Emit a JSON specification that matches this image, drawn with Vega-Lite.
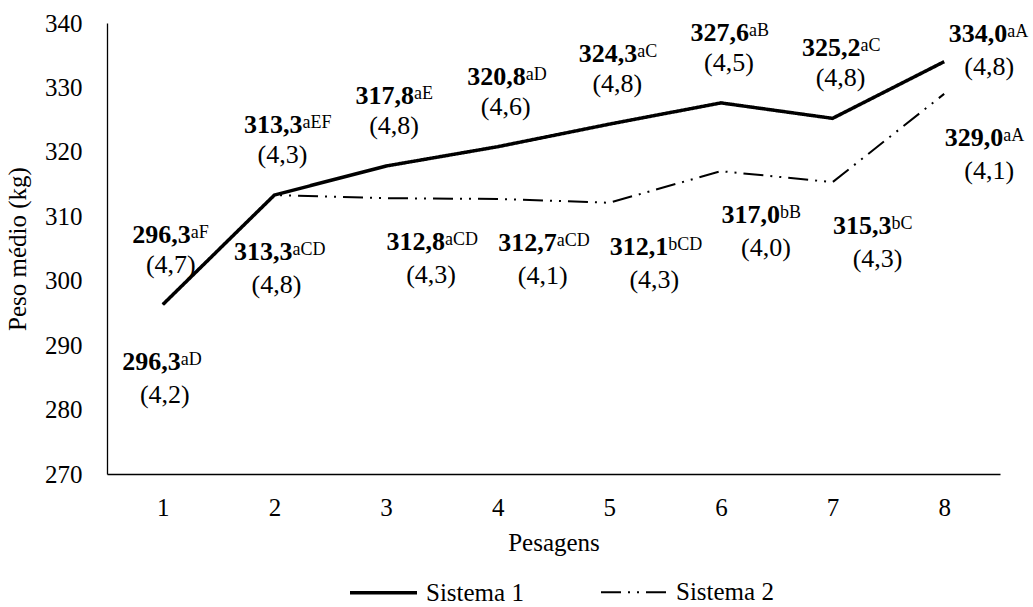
{
  "$schema": "https://vega.github.io/schema/vega-lite/v6.json",
  "width": 893,
  "height": 451,
  "autosize": {"type": "none"},
  "padding": {"left": 107, "top": 23, "right": 33, "bottom": 133},
  "background": "white",
  "data": {
    "values": [
      {"pesagem": 1, "sistema": "Sistema 1", "peso": 296.3, "letras": "aF", "dp": "(4,7)"},
      {"pesagem": 2, "sistema": "Sistema 1", "peso": 313.3, "letras": "aEF", "dp": "(4,3)"},
      {"pesagem": 3, "sistema": "Sistema 1", "peso": 317.8, "letras": "aE", "dp": "(4,8)"},
      {"pesagem": 4, "sistema": "Sistema 1", "peso": 320.8, "letras": "aD", "dp": "(4,6)"},
      {"pesagem": 5, "sistema": "Sistema 1", "peso": 324.3, "letras": "aC", "dp": "(4,8)"},
      {"pesagem": 6, "sistema": "Sistema 1", "peso": 327.6, "letras": "aB", "dp": "(4,5)"},
      {"pesagem": 7, "sistema": "Sistema 1", "peso": 325.2, "letras": "aC", "dp": "(4,8)"},
      {"pesagem": 8, "sistema": "Sistema 1", "peso": 334.0, "letras": "aA", "dp": "(4,8)"},
      {"pesagem": 1, "sistema": "Sistema 2", "peso": 296.3, "letras": "aD", "dp": "(4,2)"},
      {"pesagem": 2, "sistema": "Sistema 2", "peso": 313.3, "letras": "aCD", "dp": "(4,8)"},
      {"pesagem": 3, "sistema": "Sistema 2", "peso": 312.8, "letras": "aCD", "dp": "(4,3)"},
      {"pesagem": 4, "sistema": "Sistema 2", "peso": 312.7, "letras": "aCD", "dp": "(4,1)"},
      {"pesagem": 5, "sistema": "Sistema 2", "peso": 312.1, "letras": "bCD", "dp": "(4,3)"},
      {"pesagem": 6, "sistema": "Sistema 2", "peso": 317.0, "letras": "bB", "dp": "(4,0)"},
      {"pesagem": 7, "sistema": "Sistema 2", "peso": 315.3, "letras": "bC", "dp": "(4,3)"},
      {"pesagem": 8, "sistema": "Sistema 2", "peso": 329.0, "letras": "aA", "dp": "(4,1)"}
    ]
  },
  "encoding": {
    "x": {
      "field": "pesagem",
      "type": "ordinal",
      "scale": {"type": "point", "padding": 0.5},
      "axis": {
        "title": "Pesagens",
        "labelAngle": 0,
        "ticks": false,
        "grid": false,
        "domainColor": "#000000",
        "domainWidth": 1.3,
        "labelFontSize": 25,
        "labelColor": "#000000",
        "labelPadding": 21,
        "titleFontSize": 25,
        "titleFontWeight": "normal",
        "titleColor": "#000000",
        "titlePadding": 10
      }
    },
    "y": {
      "field": "peso",
      "type": "quantitative",
      "scale": {"domain": [270, 340], "nice": false, "zero": false},
      "axis": {
        "title": "Peso médio (kg)",
        "values": [270, 280, 290, 300, 310, 320, 330, 340],
        "ticks": false,
        "grid": false,
        "domainColor": "#000000",
        "domainWidth": 1.3,
        "labelFontSize": 25,
        "labelColor": "#000000",
        "labelPadding": 25,
        "titleFontSize": 25,
        "titleFontWeight": "normal",
        "titleColor": "#000000",
        "titlePadding": 14
      }
    }
  },
  "layer": [
    {
      "mark": {"type": "line", "color": "#000000", "strokeJoin": "miter"},
      "encoding": {
        "strokeDash": {
          "field": "sistema",
          "type": "nominal",
          "scale": {"domain": ["Sistema 1", "Sistema 2"], "range": [[1, 0], [20, 7, 2, 7, 2, 7]]},
          "legend": {
            "title": null,
            "orient": "none",
            "direction": "horizontal",
            "legendX": 241,
            "legendY": 534,
            "symbolType": "stroke",
            "symbolSize": 4489,
            "symbolStrokeWidth": 3,
            "symbolStrokeColor": "#000000",
            "labelFontSize": 25,
            "labelColor": "#000000",
            "labelOffset": 7,
            "columnPadding": 73,
            "padding": 0
          }
        },
        "strokeWidth": {
          "field": "sistema",
          "type": "ordinal",
          "scale": {"domain": ["Sistema 1", "Sistema 2"], "range": [3.5, 2]},
          "legend": null
        }
      }
    },
    {
      "transform": [{"filter": "datum.sistema == 'Sistema 1' && datum.pesagem < 8"}],
      "layer": [
        {"mark": {"type": "text", "fontWeight": "bold", "fontSize": 26, "align": "right", "baseline": "alphabetic", "dx": 28, "dy": -62, "color": "#000000"},
         "encoding": {"text": {"field": "peso", "type": "quantitative", "format": ".1f"}}},
        {"mark": {"type": "text", "fontSize": 18, "align": "left", "baseline": "alphabetic", "dx": 28, "dy": -67, "color": "#000000"},
         "encoding": {"text": {"field": "letras", "type": "nominal"}}},
        {"mark": {"type": "text", "fontSize": 26, "align": "center", "baseline": "alphabetic", "dx": 8, "dy": -32, "color": "#000000"},
         "encoding": {"text": {"field": "dp", "type": "nominal"}}}
      ]
    },
    {
      "transform": [{"filter": "datum.sistema == 'Sistema 1' && datum.pesagem == 8"}],
      "layer": [
        {"mark": {"type": "text", "fontWeight": "bold", "fontSize": 26, "align": "right", "baseline": "alphabetic", "dx": 63, "dy": -20, "color": "#000000"},
         "encoding": {"text": {"field": "peso", "type": "quantitative", "format": ".1f"}}},
        {"mark": {"type": "text", "fontSize": 18, "align": "left", "baseline": "alphabetic", "dx": 63, "dy": -25, "color": "#000000"},
         "encoding": {"text": {"field": "letras", "type": "nominal"}}},
        {"mark": {"type": "text", "fontSize": 26, "align": "center", "baseline": "alphabetic", "dx": 45, "dy": 13, "color": "#000000"},
         "encoding": {"text": {"field": "dp", "type": "nominal"}}}
      ]
    },
    {
      "transform": [{"filter": "datum.sistema == 'Sistema 2' && datum.pesagem <= 2"}],
      "layer": [
        {"mark": {"type": "text", "fontWeight": "bold", "fontSize": 26, "align": "right", "baseline": "alphabetic", "dx": 18, "dy": 65, "color": "#000000"},
         "encoding": {"text": {"field": "peso", "type": "quantitative", "format": ".1f"}}},
        {"mark": {"type": "text", "fontSize": 18, "align": "left", "baseline": "alphabetic", "dx": 18, "dy": 60, "color": "#000000"},
         "encoding": {"text": {"field": "letras", "type": "nominal"}}},
        {"mark": {"type": "text", "fontSize": 26, "align": "center", "baseline": "alphabetic", "dx": 2, "dy": 98, "color": "#000000"},
         "encoding": {"text": {"field": "dp", "type": "nominal"}}}
      ]
    },
    {
      "transform": [{"filter": "datum.sistema == 'Sistema 2' && datum.pesagem > 2"}],
      "layer": [
        {"mark": {"type": "text", "fontWeight": "bold", "fontSize": 26, "align": "right", "baseline": "alphabetic", "dx": 59, "dy": 52, "color": "#000000"},
         "encoding": {"text": {"field": "peso", "type": "quantitative", "format": ".1f"}}},
        {"mark": {"type": "text", "fontSize": 18, "align": "left", "baseline": "alphabetic", "dx": 59, "dy": 47, "color": "#000000"},
         "encoding": {"text": {"field": "letras", "type": "nominal"}}},
        {"mark": {"type": "text", "fontSize": 26, "align": "center", "baseline": "alphabetic", "dx": 45, "dy": 85, "color": "#000000"},
         "encoding": {"text": {"field": "dp", "type": "nominal"}}}
      ]
    }
  ],
  "config": {
    "view": {"stroke": null},
    "font": "Liberation Serif",
    "locale": {
      "number": {"decimal": ",", "thousands": ".", "grouping": [3], "currency": ["", ""]}
    }
  }
}
